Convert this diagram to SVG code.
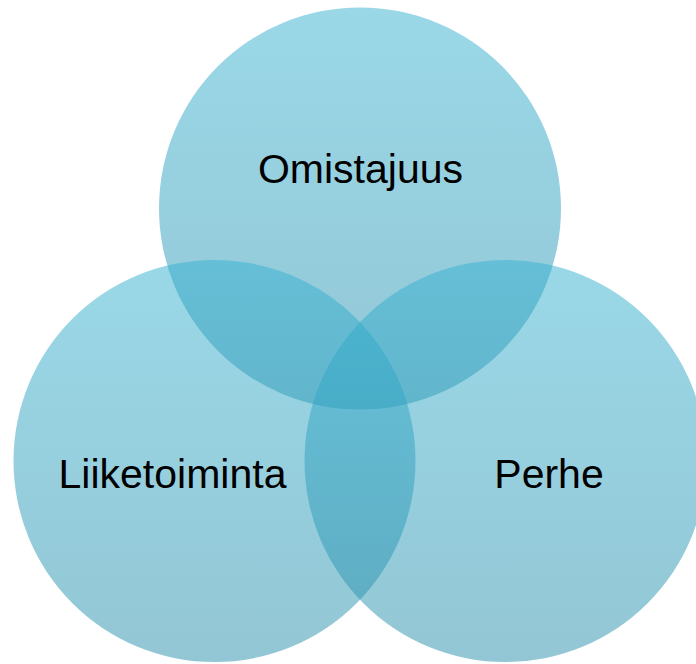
<svg xmlns="http://www.w3.org/2000/svg" width="696" height="664" viewBox="0 0 696 664">
  <defs>
    <linearGradient id="g" x1="0" y1="0" x2="0" y2="1">
      <stop offset="0" stop-color="#35b1d1"/>
      <stop offset="1" stop-color="#288eaa"/>
    </linearGradient>
    <style>
      .c { fill: url(#g); fill-opacity: 0.5; }
      .t { font-family: "Liberation Sans", Arial, sans-serif; font-size: 41px; fill: #000; text-anchor: middle; }
    </style>
  </defs>
  <rect width="696" height="664" fill="#ffffff"/>
  <g id="omistajuus">
    <circle class="c" cx="360" cy="208.5" r="201"/>
    <text class="t" x="360.5" y="183">Omistajuus</text>
  </g>
  <g id="liiketoiminta">
    <circle class="c" cx="214.5" cy="461" r="201"/>
    <text class="t" x="172.5" y="488">Liiketoiminta</text>
  </g>
  <g id="perhe">
    <circle class="c" cx="505.5" cy="461" r="201"/>
    <text class="t" x="549" y="488">Perhe</text>
  </g>
  <g id="connectors"/>
</svg>
